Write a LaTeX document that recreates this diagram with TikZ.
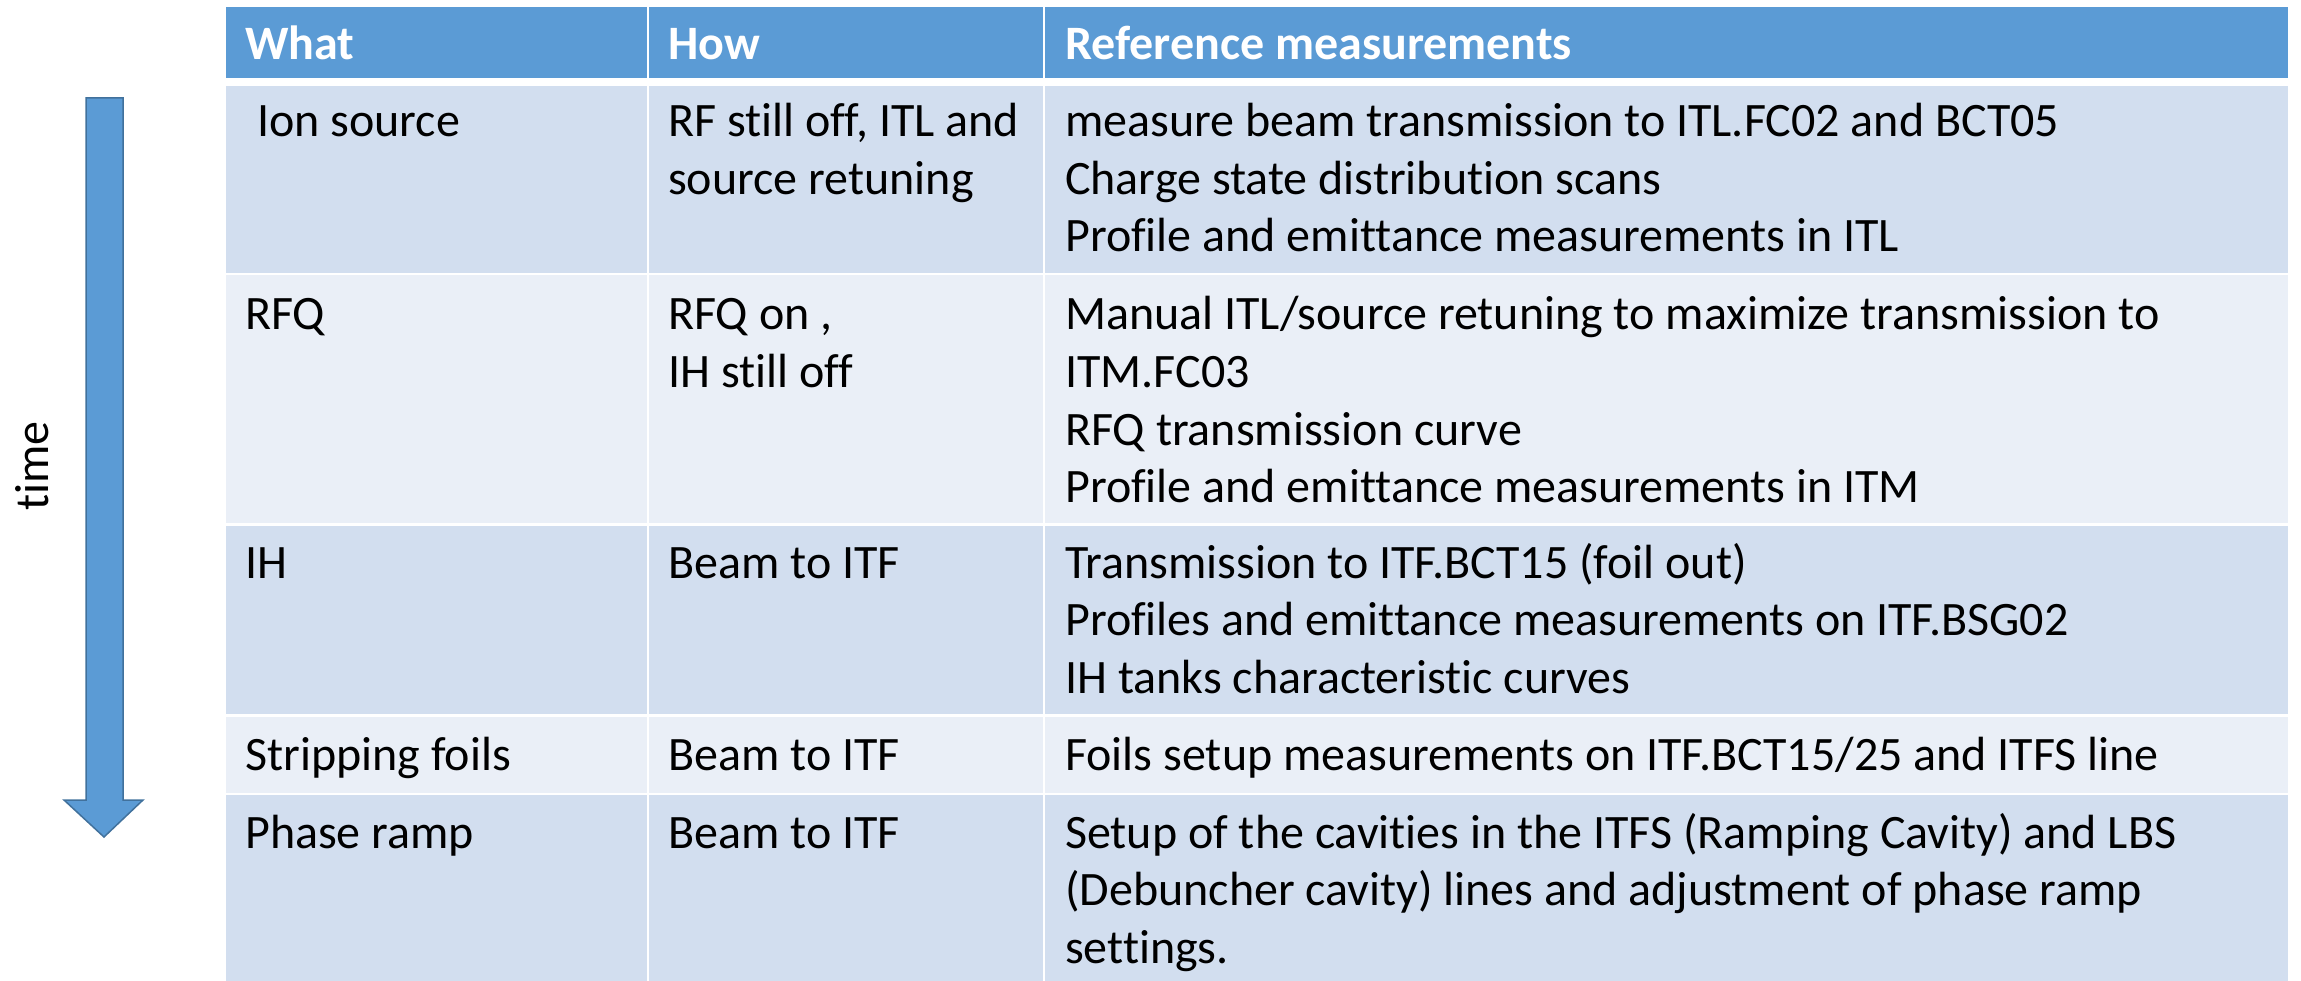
\documentclass[tikz,border=0pt]{standalone}
\usepackage{fontspec}
\setmainfont{Carlito}[Ligatures=NoCommon]
\definecolor{hdrblue}{HTML}{5B9BD5}
\definecolor{banddark}{HTML}{D2DEEF}
\definecolor{bandlight}{HTML}{EAEFF7}
\definecolor{arrowedge}{HTML}{41719C}
\tikzset{
  txt/.style={anchor=base west, inner sep=0pt, font=\fontsize{48pt}{57pt}\selectfont, text=black},
  hdr/.style={txt, font=\fontsize{48pt}{57pt}\selectfont\bfseries, text=white},
  hdrcell/.style={fill=hdrblue},
  darkcell/.style={fill=banddark},
  lightcell/.style={fill=bandlight},
}
\begin{document}
\begin{tikzpicture}[x=1pt,y=-1pt]
\useasboundingbox (0,0) rectangle (2301,981);
% header
\fill[hdrcell] (226,7) rectangle (647,78);
\fill[hdrcell] (649,7) rectangle (1043,78);
\fill[hdrcell] (1045,7) rectangle (2288,78);
% row 1
\fill[darkcell] (226,86) rectangle (647,273);
\fill[darkcell] (649,86) rectangle (1043,273);
\fill[darkcell] (1045,86) rectangle (2288,273);
% row 2
\fill[lightcell] (226,275) rectangle (647,523);
\fill[lightcell] (649,275) rectangle (1043,523);
\fill[lightcell] (1045,275) rectangle (2288,523);
% row 3
\fill[darkcell] (226,526) rectangle (647,714);
\fill[darkcell] (649,526) rectangle (1043,714);
\fill[darkcell] (1045,526) rectangle (2288,714);
% row 4
\fill[lightcell] (226,717) rectangle (647,793);
\fill[lightcell] (649,717) rectangle (1043,793);
\fill[lightcell] (1045,717) rectangle (2288,793);
% row 5
\fill[darkcell] (226,795) rectangle (647,981);
\fill[darkcell] (649,795) rectangle (1043,981);
\fill[darkcell] (1045,795) rectangle (2288,981);

% header text
\node[hdr] (h1) at (245,60) {What};
\node[hdr] (h2) at (668,60) {How};
\node[hdr] (h3) at (1065,60) {Reference measurements};

% row 1
\node[txt] (r1a) at (257,137) {Ion source};
\node[txt] (r1b1) at (668,137) {RF still off, ITL and};
\node[txt] (r1b2) at (668,194.5) {source retuning};
\node[txt] (r1c1) at (1065,137) {measure beam transmission to ITL.FC02 and BCT05};
\node[txt] (r1c2) at (1065,194.5) {Charge state distribution scans};
\node[txt] (r1c3) at (1065,252) {Profile and emittance measurements in ITL};

% row 2
\node[txt] (r2a) at (245,330) {RFQ};
\node[txt] (r2b1) at (668,330) {RFQ on ,};
\node[txt] (r2b2) at (668,387.5) {IH still off};
\node[txt] (r2c1) at (1065,330) {Manual ITL/source retuning to maximize transmission to};
\node[txt] (r2c2) at (1065,387.5) {ITM.FC03};
\node[txt] (r2c3) at (1065,445) {RFQ transmission curve};
\node[txt] (r2c4) at (1065,502.5) {Profile and emittance measurements in ITM};

% row 3
\node[txt] (r3a) at (245,578) {IH};
\node[txt] (r3b) at (668,578) {Beam to ITF};
\node[txt] (r3c1) at (1065,578) {Transmission to ITF.BCT15 (foil out)};
\node[txt] (r3c2) at (1065,635.5) {Profiles and emittance measurements on ITF.BSG02};
\node[txt] (r3c3) at (1065,693) {IH tanks characteristic curves};

% row 4
\node[txt] (r4a) at (245,770) {Stripping foils};
\node[txt] (r4b) at (668,770) {Beam to ITF};
\node[txt] (r4c) at (1065,770) {Foils setup measurements on ITF.BCT15/25 and ITFS line};

% row 5
\node[txt] (r5a) at (245,848) {Phase ramp};
\node[txt] (r5b) at (668,848) {Beam to ITF};
\node[txt] (r5c1) at (1065,848) {Setup of the cavities in the ITFS (Ramping Cavity) and LBS};
\node[txt] (r5c2) at (1065,905.5) {(Debuncher cavity) lines and adjustment of phase ramp};
\node[txt] (r5c3) at (1065,963) {settings.};

% time arrow
\draw[fill=hdrblue, draw=arrowedge, line width=1.5pt, line join=miter]
  (86,98) -- (123,98) -- (123,800) -- (143,800) -- (104,837) -- (64,800) -- (86,800) -- cycle;
\node[rotate=90, inner sep=0pt, font=\fontsize{48pt}{57pt}\selectfont] (time) at (32,466) {time};
\end{tikzpicture}
\end{document}
